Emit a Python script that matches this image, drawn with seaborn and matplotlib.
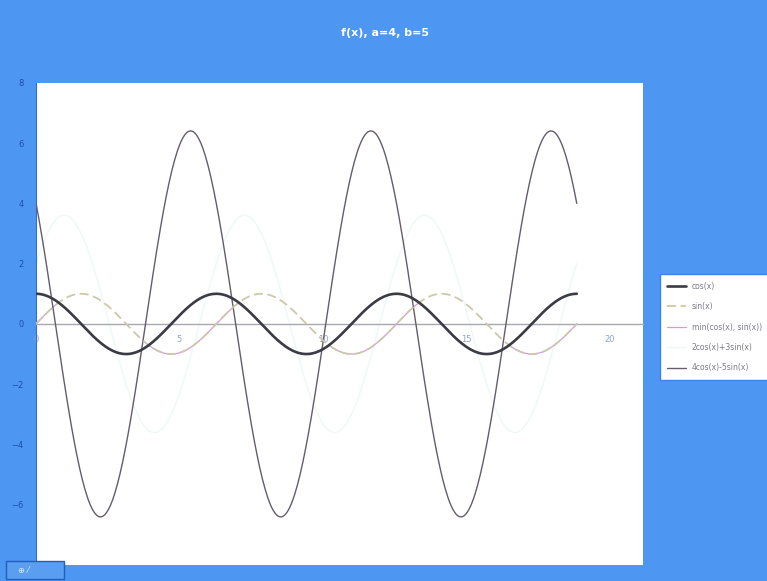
import numpy as np
import pandas as pd
import matplotlib
matplotlib.use("Agg")
import matplotlib.pyplot as plt
import matplotlib.patches as mpatches
import seaborn as sns

# sample points over three full periods
x = np.linspace(0, 6 * np.pi, 400)

series_labels = ["cos(x)", "sin(x)", "min(cos(x), sin(x))", "2cos(x)+3sin(x)", "4cos(x)-5sin(x)"]
series_values = [
    np.cos(x),
    np.sin(x),
    np.minimum(np.cos(x), np.sin(x)),
    2 * np.cos(x) + 3 * np.sin(x),
    4 * np.cos(x) - 5 * np.sin(x),
]
y_ticks = [-6, -4, -2, 0, 2, 4, 6, 8]
x_ticks = [0, 5, 10, 15, 20]
title_text = "f(x), a=4, b=5"

styles = {
    "cos(x)": dict(color="#3b3b45", lw=1.9, ls="-", z=5),
    "sin(x)": dict(color="#cdc8a8", lw=1.3, ls=(0, (5, 2.5)), z=4),
    "min(cos(x), sin(x))": dict(color="#d49ce0", lw=0.9, ls="-", z=3),
    "2cos(x)+3sin(x)": dict(color="#eef8f7", lw=1.0, ls="-", z=2),
    "4cos(x)-5sin(x)": dict(color="#655c6c", lw=1.0, ls="-", z=3),
}

frames = [pd.DataFrame({"x": x, "y": v, "series": lab}) for lab, v in zip(series_labels, series_values)]
df = pd.concat(frames, ignore_index=True)

sns.set_style("white")
bg = "#4d96f2"
fig = plt.figure(figsize=(7.67, 5.81), dpi=100, facecolor=bg)
ax = fig.add_axes([0.047, 0.0275, 0.791, 0.830])
ax.set_facecolor("white")

for lab in series_labels:
    st = styles[lab]
    sns.lineplot(data=df[df["series"] == lab], x="x", y="y", ax=ax, label=lab,
                 color=st["color"], linewidth=st["lw"], linestyle=st["ls"], zorder=st["z"])

ax.set_xlim(0, 21.15)
ax.set_ylim(-8, 8)
ax.set_yticks(y_ticks)
ax.set_xticks(x_ticks)
ax.set_xlabel("")
ax.set_ylabel("")

# axis lines: left edge on the blue, horizontal axis through zero
for s in ["top", "right"]:
    ax.spines[s].set_visible(False)
ax.spines["left"].set_color("#2e6fd0")
ax.spines["bottom"].set_position(("data", 0))
ax.spines["bottom"].set_color("#a8a8b0")
ax.spines["bottom"].set_linewidth(1.0)
ax.tick_params(axis="y", direction="out", length=3, width=0.8, colors="#1d4fa8",
               labelsize=6, pad=6)
ax.tick_params(axis="x", direction="out", length=2, width=0.6, colors="#d0d8e4",
               labelsize=6, labelcolor="#8aa4cc", pad=6)

fig.text(0.502, 0.943, title_text, color="white", fontsize=8, fontweight="bold",
         ha="center", va="center")

# small toolbar box in the lower-left corner
fig.add_artist(mpatches.Rectangle((0.008, 0.003), 0.075, 0.032, transform=fig.transFigure,
                                  facecolor="#5a9ef0", edgecolor="#1f5fc0", lw=1.0))
fig.text(0.03, 0.018, "⊕ ⁄", color="#dde8f8", fontsize=6, ha="center", va="center")

ax.get_legend().remove()
handles, labels = ax.get_legend_handles_labels()
leg = fig.legend(handles, labels, loc="upper left", bbox_to_anchor=(0.855, 0.535),
                 fontsize=5.5, frameon=True, fancybox=False, handlelength=2.4,
                 labelspacing=1.5, borderpad=1.0, facecolor="white", framealpha=1.0,
                 edgecolor="#3d84e6")
for t in leg.get_texts():
    t.set_color("#7a7a88")

fig.savefig("out.png", dpi=100, facecolor=bg)
